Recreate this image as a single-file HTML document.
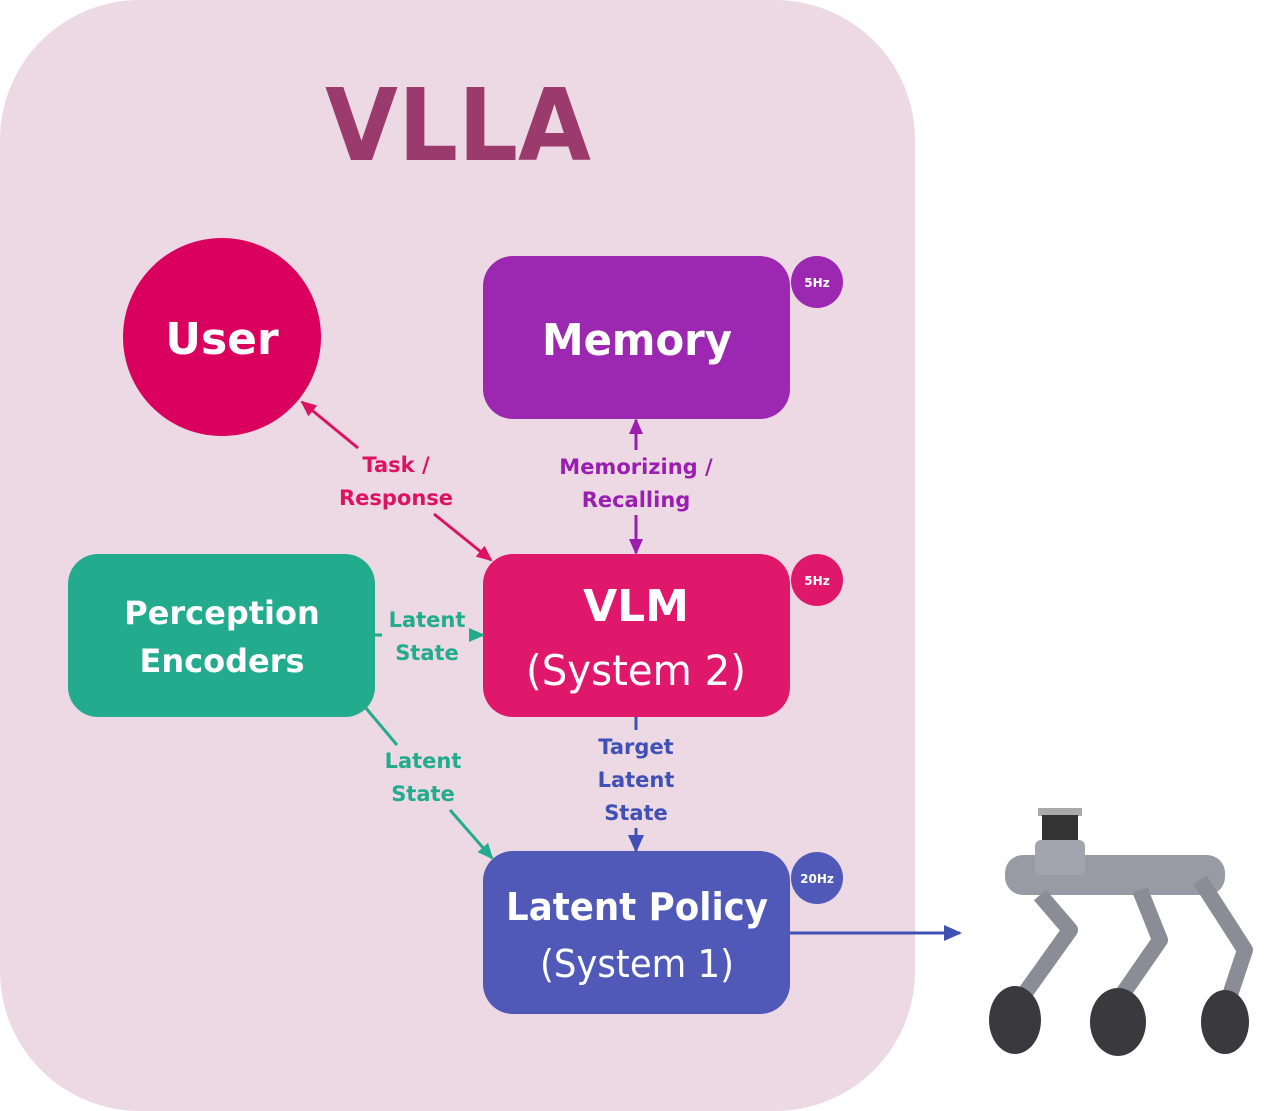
<!DOCTYPE html>
<html><head><meta charset="utf-8"><style>
html,body{margin:0;padding:0;background:#fff;}
svg{display:block;}
text{font-family:"DejaVu Sans","Liberation Sans",sans-serif;font-weight:bold;}
</style></head><body>
<svg width="1280" height="1111" viewBox="0 0 1280 1111" xmlns="http://www.w3.org/2000/svg">
<defs>
<marker id="aR" markerWidth="16" markerHeight="16" refX="14" refY="8" orient="auto" markerUnits="userSpaceOnUse"><path d="M0,1 L16,8 L0,15 z" fill="#dd1263"/></marker>
<marker id="aP" markerWidth="16" markerHeight="16" refX="14" refY="8" orient="auto" markerUnits="userSpaceOnUse"><path d="M0,1 L16,8 L0,15 z" fill="#9a1fb0"/></marker>
<marker id="aG" markerWidth="16" markerHeight="16" refX="14" refY="8" orient="auto" markerUnits="userSpaceOnUse"><path d="M0,1 L16,8 L0,15 z" fill="#22ab8c"/></marker>
<marker id="aB" markerWidth="18" markerHeight="18" refX="16" refY="9" orient="auto" markerUnits="userSpaceOnUse"><path d="M0,1 L18,9 L0,17 z" fill="#4150b5"/></marker>
</defs>
<rect x="0" y="0" width="915" height="1111" rx="140" ry="140" fill="#ecd9e3"/>
<text x="458" y="160" font-size="100" fill="#9b3a6c" text-anchor="middle" textLength="266" lengthAdjust="spacingAndGlyphs">VLLA</text>

<circle cx="222" cy="337" r="99" fill="#d9005e"/>
<text x="222" y="354" font-size="44" fill="#fff" text-anchor="middle">User</text>

<rect x="483" y="256" width="307" height="163" rx="30" fill="#9c27b0"/>
<text x="637" y="355" font-size="44" fill="#fff" text-anchor="middle" textLength="190" lengthAdjust="spacingAndGlyphs">Memory</text>
<circle cx="817" cy="282" r="26" fill="#9c27b0"/>
<text x="817" y="287" font-size="12" fill="#fff" text-anchor="middle">5Hz</text>

<rect x="483" y="554" width="307" height="163" rx="30" fill="#e0186c"/>
<text x="636" y="621" font-size="44" fill="#fff" text-anchor="middle">VLM</text>
<text x="636" y="685" font-size="42" fill="#fff" text-anchor="middle" style="font-weight:normal" textLength="220" lengthAdjust="spacingAndGlyphs">(System 2)</text>
<circle cx="817" cy="580" r="26" fill="#e0186c"/>
<text x="817" y="585" font-size="12" fill="#fff" text-anchor="middle">5Hz</text>

<rect x="68" y="554" width="307" height="163" rx="30" fill="#22ab8c"/>
<text x="222" y="624" font-size="32" fill="#fff" text-anchor="middle">Perception</text>
<text x="222" y="672" font-size="32" fill="#fff" text-anchor="middle">Encoders</text>

<rect x="483" y="851" width="307" height="163" rx="30" fill="#5059b8"/>
<text x="637" y="920" font-size="38" fill="#fff" text-anchor="middle" textLength="262" lengthAdjust="spacingAndGlyphs">Latent Policy</text>
<text x="637" y="977" font-size="38" fill="#fff" text-anchor="middle" style="font-weight:normal" textLength="194" lengthAdjust="spacingAndGlyphs">(System 1)</text>
<circle cx="817" cy="878" r="26" fill="#5059b8"/>
<text x="817" y="883" font-size="12" fill="#fff" text-anchor="middle">20Hz</text>

<line x1="358" y1="448" x2="302" y2="402" stroke="#dd1263" stroke-width="3" marker-end="url(#aR)"/>
<line x1="434" y1="514" x2="491" y2="560" stroke="#dd1263" stroke-width="3" marker-end="url(#aR)"/>
<text x="396" y="472" font-size="21" fill="#dd1263" text-anchor="middle">Task /</text>
<text x="396" y="505" font-size="21" fill="#dd1263" text-anchor="middle">Response</text>

<line x1="636" y1="450" x2="636" y2="420" stroke="#9a1fb0" stroke-width="3" marker-end="url(#aP)"/>
<line x1="636" y1="515" x2="636" y2="553" stroke="#9a1fb0" stroke-width="3" marker-end="url(#aP)"/>
<text x="636" y="474" font-size="21" fill="#9a1fb0" text-anchor="middle">Memorizing /</text>
<text x="636" y="507" font-size="21" fill="#9a1fb0" text-anchor="middle">Recalling</text>

<line x1="375" y1="635" x2="382" y2="635" stroke="#22ab8c" stroke-width="3"/>
<line x1="470" y1="635" x2="483" y2="635" stroke="#22ab8c" stroke-width="3" marker-end="url(#aG)"/>
<text x="427" y="627" font-size="21" fill="#22ab8c" text-anchor="middle">Latent</text>
<text x="427" y="660" font-size="21" fill="#22ab8c" text-anchor="middle">State</text>

<line x1="365" y1="707" x2="397" y2="745" stroke="#22ab8c" stroke-width="3"/>
<line x1="450" y1="810" x2="492" y2="858" stroke="#22ab8c" stroke-width="3" marker-end="url(#aG)"/>
<text x="423" y="768" font-size="21" fill="#22ab8c" text-anchor="middle">Latent</text>
<text x="423" y="801" font-size="21" fill="#22ab8c" text-anchor="middle">State</text>

<line x1="636" y1="717" x2="636" y2="730" stroke="#4150b5" stroke-width="3"/>
<line x1="636" y1="828" x2="636" y2="851" stroke="#4150b5" stroke-width="3" marker-end="url(#aB)"/>
<text x="636" y="754" font-size="21" fill="#4150b5" text-anchor="middle">Target</text>
<text x="636" y="787" font-size="21" fill="#4150b5" text-anchor="middle">Latent</text>
<text x="636" y="820" font-size="21" fill="#4150b5" text-anchor="middle">State</text>

<line x1="790" y1="933" x2="960" y2="933" stroke="#4150b5" stroke-width="3" marker-end="url(#aB)"/>

<g>
<rect x="1038" y="808" width="44" height="8" fill="#aaa"/>
<rect x="1042" y="815" width="36" height="32" fill="#333"/>
<rect x="1005" y="855" width="220" height="40" rx="18" fill="#9a9aa4"/>
<rect x="1035" y="840" width="50" height="35" rx="6" fill="#a4a4ae"/>
<path d="M1040,895 L1070,930 L1020,1000" stroke="#8c8c96" stroke-width="16" fill="none" stroke-linejoin="round"/>
<path d="M1140,890 L1160,940 L1115,1005" stroke="#8c8c96" stroke-width="16" fill="none" stroke-linejoin="round"/>
<path d="M1200,880 L1245,950 L1225,1010" stroke="#8c8c96" stroke-width="16" fill="none" stroke-linejoin="round"/>
<ellipse cx="1015" cy="1020" rx="26" ry="34" fill="#3a3a3e"/>
<ellipse cx="1118" cy="1022" rx="28" ry="34" fill="#3a3a3e"/>
<ellipse cx="1225" cy="1022" rx="24" ry="32" fill="#3a3a3e"/>
</g>
</svg>
</body></html>
